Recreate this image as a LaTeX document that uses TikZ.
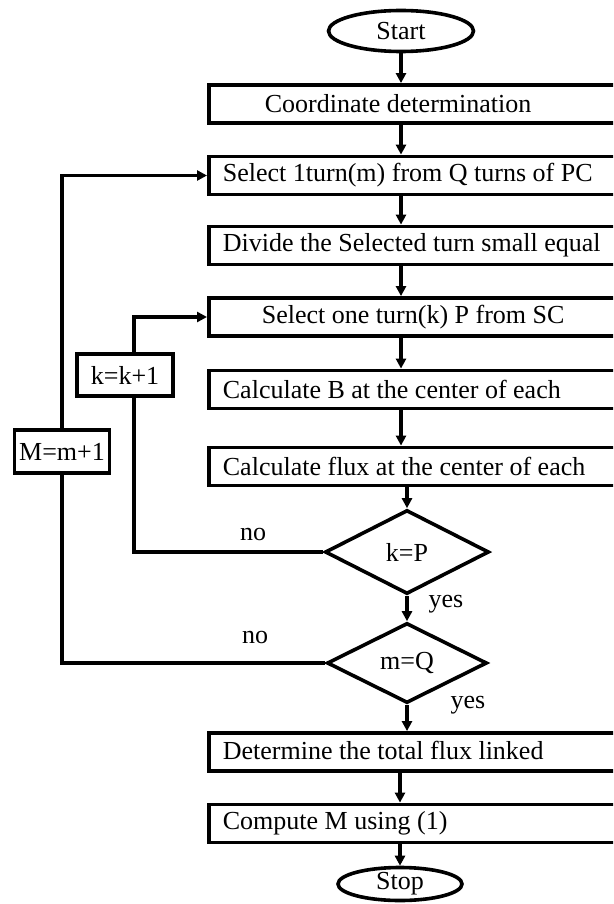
\documentclass[tikz,border=0pt]{standalone}
\usepackage{fontspec}
\setmainfont{Liberation Serif}
\usetikzlibrary{shapes.geometric,arrows.meta}
\tikzset{
  procbox/.style={rectangle, draw, line width=3.8pt, anchor=west, minimum height=38pt,
                  align=left, inner xsep=#1, text width=453pt-2*#1,
                  execute at begin node={\spaceskip=6.5pt\relax\xspaceskip=6.5pt\relax}},
  procbox/.default=14pt,
  terminal/.style={ellipse, draw, line width=3.6pt, inner sep=0pt},
  decision/.style={diamond, draw, line width=3.6pt, inner sep=0pt},
  incbox/.style={rectangle, draw, line width=3.8pt, fill=white, inner sep=0pt},
  flow/.style={draw, line width=3.6pt},
  lbl/.style={inner sep=0pt}
}
\begin{document}
\begin{tikzpicture}[x=1pt, y=-1pt, font=\fontsize{26}{30}\selectfont,
                    >={Triangle[length=10pt,width=10pt]}]
  \useasboundingbox (0,0) rectangle (613,904);
  \clip (0,0) rectangle (613,904);

  % main column
  \node[terminal, minimum width=145pt, minimum height=41pt] (start) at (401,31) {Start};
  \node[procbox=56pt] (coord)  at (207,104)   {Coordinate determination};
  \node[procbox]      (selm)   at (207,175.5) {Select 1turn(m) from Q turns of PC};
  \node[procbox]      (divide) at (207,245.5) {Divide the Selected turn small equal};
  \node[procbox=53pt] (selk)   at (207,317)   {Select one turn(k) P from SC};
  \node[procbox]      (calcb)  at (207,389.5) {Calculate B at the center of each};
  \node[procbox]      (calcf)  at (207,466.5) {Calculate flux at the center of each};
  \node[decision, minimum width=164pt, minimum height=84pt] (kp) at (407,552) {k=P};
  \node[decision, minimum width=160pt, minimum height=80pt] (mq) at (407,663) {m=Q};
  \node[procbox]      (total)  at (207,752)   {\raisebox{4pt}{Determine the total flux linked}};
  \node[procbox]      (compm)  at (207,823.5) {Compute M using (1)};
  \node[terminal, minimum width=124pt, minimum height=33pt] (stop) at (400,884) {Stop};

  % loop counters
  \coordinate (kx) at (134,0);
  \node[incbox, minimum width=96pt, minimum height=42pt] (kinc) at (125,375)   {k=k+1};
  \node[incbox, minimum width=95pt, minimum height=43pt] (minc) at (62,451.5) {M=m+1};

  % labels
  \node[lbl] (kno)  at (253,534) {no};
  \node[lbl] (kyes) at (446,604) {yes};
  \node[lbl] (mno)  at (255,637) {no};
  \node[lbl] (myes) at (468,705) {yes};

  % straight flow
  \path[flow, ->] (start.south)        -- (coord.north -| start);
  \path[flow, ->] (coord.south -| start)  -- (selm.north -| start);
  \path[flow, ->] (selm.south -| start)   -- (divide.north -| start);
  \path[flow, ->] (divide.south -| start) -- (selk.north -| start);
  \path[flow, ->] (selk.south -| start)   -- (calcb.north -| start);
  \path[flow, ->] (calcb.south -| start)  -- (calcf.north -| start);
  \path[flow, ->] (calcf.south -| kp)     -- (kp.north);
  \path[flow, ->] (kp.south)              -- (mq.north);
  \path[flow, ->] (mq.south)              -- (total.north -| mq);
  \path[flow, ->] (total.south -| stop)   -- (compm.north -| stop);
  \path[flow, ->] (compm.south -| stop)   -- (stop.north);

  % loops back
  \path[flow]     (kp.west) -- (kp.west -| kx) -- (kinc.south -| kx);
  \path[flow, ->] (kinc.north -| kx) |- (selk.west);
  \path[flow]     (mq.west) -| (minc.south);
  \path[flow, ->] (minc.north) |- (selm.west);
\end{tikzpicture}
\end{document}
